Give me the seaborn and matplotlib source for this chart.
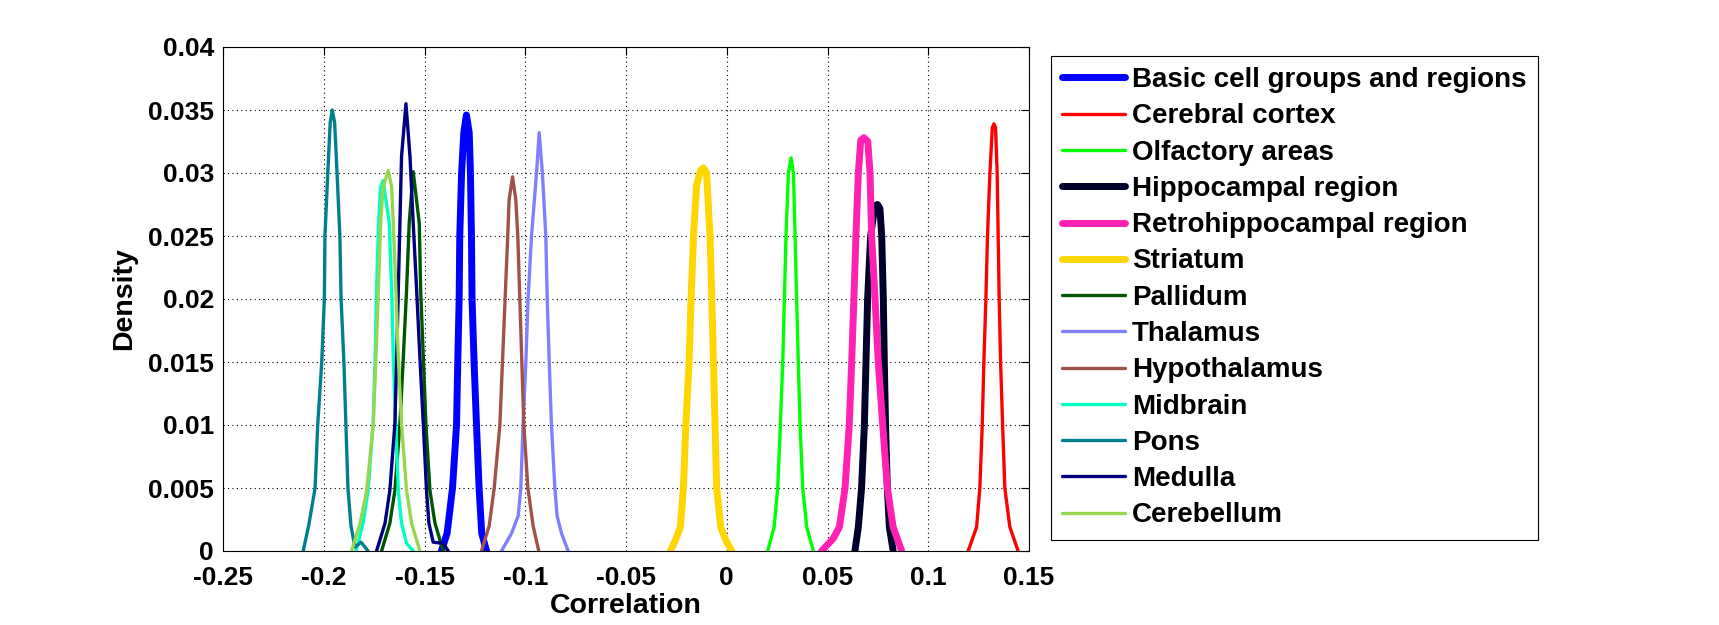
import numpy as np
import pandas as pd
import seaborn as sns
import matplotlib.pyplot as plt

# legend order = drawing order
regions = ["Basic cell groups and regions", "Cerebral cortex", "Olfactory areas",
           "Hippocampal region", "Retrohippocampal region", "Striatum", "Pallidum",
           "Thalamus", "Hypothalamus", "Midbrain", "Pons", "Medulla", "Cerebellum"]

# density curves (correlation, density)
basic_x = [-0.1416, -0.1388, -0.1361, -0.1341, -0.1335, -0.1328, -0.1325, -0.1316, -0.1305, -0.1292,
           -0.1278, -0.1272, -0.1267, -0.1264, -0.1254, -0.1242, -0.1229, -0.1216, -0.1192]
basic_y = [0.0, 0.0014, 0.005, 0.010, 0.015, 0.020, 0.025, 0.030, 0.0332, 0.0346,
           0.0332, 0.030, 0.025, 0.020, 0.015, 0.010, 0.005, 0.0014, 0.0]

cortex_x = [0.1198, 0.1240, 0.1256, 0.1268, 0.1276, 0.1286, 0.1294, 0.1306, 0.1318, 0.1326,
            0.1334, 0.1342, 0.1347, 0.1352, 0.1359, 0.1369, 0.1380, 0.1405, 0.1446]
cortex_y = [0.0, 0.0019, 0.005, 0.010, 0.015, 0.020, 0.025, 0.030, 0.0336, 0.0339,
            0.0336, 0.030, 0.025, 0.020, 0.015, 0.010, 0.005, 0.0019, 0.0]

olfactory_x = [0.0203, 0.0235, 0.0253, 0.0266, 0.0278, 0.0286, 0.0294, 0.0306, 0.0319,
               0.0331, 0.0339, 0.0347, 0.0355, 0.0364, 0.0377, 0.0397, 0.0430]
olfactory_y = [0.0, 0.0019, 0.005, 0.010, 0.015, 0.020, 0.025, 0.030, 0.0312,
               0.030, 0.025, 0.020, 0.015, 0.010, 0.005, 0.0019, 0.0]

hippo_x = [0.0636, 0.0653, 0.0669, 0.0683, 0.0691, 0.0699, 0.0714, 0.0735, 0.0748,
           0.0760, 0.0769, 0.0777, 0.0782, 0.0788, 0.0797, 0.0807, 0.0826]
hippo_y = [0.0, 0.0019, 0.005, 0.010, 0.015, 0.020, 0.025, 0.0274, 0.0275,
           0.0272, 0.025, 0.020, 0.015, 0.010, 0.005, 0.0019, 0.0]

retro_x = [0.0471, 0.0529, 0.0559, 0.0587, 0.0608, 0.0620, 0.0631, 0.0641, 0.0653, 0.0665,
           0.0681, 0.0700, 0.0711, 0.0719, 0.0736, 0.0752, 0.0774, 0.0797, 0.0826, 0.0868]
retro_y = [0.0, 0.001, 0.0019, 0.005, 0.010, 0.015, 0.020, 0.025, 0.030, 0.0326,
           0.0328, 0.0325, 0.030, 0.025, 0.020, 0.015, 0.010, 0.005, 0.0019, 0.0]

striatum_x = [-0.0280, -0.0256, -0.0230, -0.0215, -0.0203, -0.0187, -0.0177, -0.0165, -0.0150, -0.0130,
              -0.0116, -0.0100, -0.0083, -0.0074, -0.0066, -0.0058, -0.0050, -0.0030, -0.0003, 0.0025]
striatum_y = [0.0, 0.0008, 0.0019, 0.005, 0.010, 0.015, 0.020, 0.025, 0.0290, 0.0302,
              0.0304, 0.0300, 0.025, 0.020, 0.015, 0.010, 0.005, 0.0019, 0.0008, 0.0]

pallidum_x = [-0.1713, -0.1672, -0.1647, -0.1622, -0.1605, -0.1589, -0.1576, -0.1556,
              -0.1526, -0.1519, -0.1506, -0.1493, -0.1473, -0.1448, -0.1407]
pallidum_y = [0.0, 0.0022, 0.0048, 0.0101, 0.0154, 0.0207, 0.026, 0.0301,
              0.026, 0.0207, 0.0154, 0.0101, 0.0048, 0.0022, 0.0]

thalamus_x = [-0.1118, -0.1068, -0.1035, -0.1022, -0.1011, -0.0997, -0.0986, -0.0969, -0.0944, -0.0931,
              -0.0915, -0.0898, -0.0891, -0.0881, -0.0870, -0.0853, -0.0842, -0.0820, -0.0787]
thalamus_y = [0.0, 0.0014, 0.0028, 0.005, 0.010, 0.015, 0.020, 0.025, 0.030, 0.0332,
              0.030, 0.025, 0.020, 0.015, 0.010, 0.005, 0.0028, 0.0014, 0.0]

hypo_x = [-0.1217, -0.1179, -0.1154, -0.1126, -0.1113, -0.1100, -0.1087, -0.1080, -0.1063,
          -0.1047, -0.1037, -0.1027, -0.1017, -0.1007, -0.0987, -0.0961, -0.0933]
hypo_y = [0.0, 0.002, 0.005, 0.010, 0.015, 0.020, 0.025, 0.0279, 0.0297,
          0.0279, 0.025, 0.020, 0.015, 0.010, 0.005, 0.002, 0.0]

midbrain_x = [-0.1840, -0.1805, -0.1780, -0.1755, -0.1745, -0.1738, -0.1728, -0.1718, -0.1705,
              -0.1675, -0.1663, -0.1655, -0.1643, -0.1630, -0.1614, -0.1589, -0.1556]
midbrain_y = [0.0, 0.0022, 0.0048, 0.0101, 0.0154, 0.0207, 0.026, 0.0289, 0.0294,
              0.026, 0.0207, 0.0154, 0.0101, 0.0048, 0.0022, 0.0006, 0.0]

pons_x = [-0.2102, -0.2075, -0.2043, -0.2030, -0.2010, -0.1997, -0.1994, -0.1980, -0.1968, -0.1958, -0.1946,
          -0.1934, -0.1920, -0.1914, -0.1900, -0.1890, -0.1880, -0.1865, -0.1845, -0.1815, -0.1780]
pons_y = [0.0, 0.002, 0.005, 0.010, 0.015, 0.020, 0.025, 0.030, 0.034, 0.035, 0.034,
          0.030, 0.025, 0.020, 0.015, 0.010, 0.005, 0.002, 0.0003, 0.0007, 0.0]

medulla_x = [-0.1738, -0.1696, -0.1672, -0.1647, -0.1638, -0.1630, -0.1622, -0.1614, -0.1592,
             -0.1572, -0.1556, -0.1539, -0.1523, -0.1506, -0.1490, -0.1478, -0.1457, -0.1407, -0.1382]
medulla_y = [0.0, 0.0022, 0.0048, 0.0101, 0.0154, 0.0207, 0.026, 0.0313, 0.0355,
             0.0313, 0.026, 0.0207, 0.0154, 0.0101, 0.0048, 0.0022, 0.0007, 0.0006, 0.0]

cerebellum_x = [-0.1862, -0.1820, -0.1787, -0.1754, -0.1741, -0.1729, -0.1718, -0.1705, -0.1680,
                -0.1663, -0.1655, -0.1642, -0.1630, -0.1614, -0.1589, -0.1564, -0.1523]
cerebellum_y = [0.0, 0.0022, 0.0048, 0.0101, 0.0154, 0.0207, 0.026, 0.0289, 0.0302,
                0.0289, 0.026, 0.0207, 0.0154, 0.0101, 0.0048, 0.0022, 0.0]

curves_x = [basic_x, cortex_x, olfactory_x, hippo_x, retro_x, striatum_x, pallidum_x,
            thalamus_x, hypo_x, midbrain_x, pons_x, medulla_x, cerebellum_x]
curves_y = [basic_y, cortex_y, olfactory_y, hippo_y, retro_y, striatum_y, pallidum_y,
            thalamus_y, hypo_y, midbrain_y, pons_y, medulla_y, cerebellum_y]

colors = ["#0000ff", "#ff0000", "#00ff00", "#00002a", "#ff20b4", "#ffd700", "#005500",
          "#8080ff", "#a0524a", "#00ffc0", "#00808f", "#000080", "#99d650"]
widths = [5, 2.4, 2.4, 5, 5, 5, 2.4, 2.4, 2.4, 2.4, 2.4, 2.4, 2.4]

xticks = [-0.25, -0.2, -0.15, -0.1, -0.05, 0, 0.05, 0.1, 0.15]
yticks = [0, 0.005, 0.01, 0.015, 0.02, 0.025, 0.03, 0.035, 0.04]

sns.set_style("white")
plt.rcParams['font.family'] = ['Liberation Sans', 'DejaVu Sans']
plt.rcParams['font.weight'] = 'bold'
plt.rcParams['axes.unicode_minus'] = False
plt.rcParams['text.color'] = 'black'
plt.rcParams['axes.labelcolor'] = 'black'

fig = plt.figure(figsize=(17.19, 6.25), dpi=100)
ax = fig.add_axes([223 / 1719, 74 / 625, 806 / 1719, 504 / 625])

for name, xs, ys, col, lw in zip(regions, curves_x, curves_y, colors, widths):
    df = pd.DataFrame({"Correlation": xs, "Density": ys})
    sns.lineplot(data=df, x="Correlation", y="Density", color=col, linewidth=lw,
                 label=name, ax=ax, estimator=None, sort=False)

ax.set_xlim(-0.25, 0.15)
ax.set_ylim(0, 0.04)
ax.set_xticks(xticks)
ax.set_xticklabels(["%g" % t for t in xticks])
ax.set_yticks(yticks)
ax.set_yticklabels(["%g" % t for t in yticks])
ax.grid(True, color="black", linestyle=(0, (1, 3)), linewidth=0.8)
ax.tick_params(direction="in", length=6, width=0.8, top=True, right=True,
               labelsize=19, colors="black")
ax.tick_params(axis="x", pad=11)
ax.tick_params(axis="y", pad=6.5)
for sp in ax.spines.values():
    sp.set_visible(True)
    sp.set_color("black")
    sp.set_linewidth(0.8)

ax.set_xlabel("Correlation", fontsize=20.5, fontweight="bold", labelpad=2)
ax.set_ylabel("Density", fontsize=20.5, fontweight="bold", labelpad=8)

leg = ax.legend(loc="upper left", bbox_to_anchor=(1051 / 1719, 1 - 56 / 625),
                bbox_transform=fig.transFigure, prop={"size": 20, "weight": "bold"},
                handlelength=2.27, handletextpad=0.25, labelspacing=0.37, borderpad=0.4,
                borderaxespad=0, frameon=True, fancybox=False, edgecolor="black", framealpha=1)
leg.get_frame().set_linewidth(0.8)
for t in leg.get_texts():
    t.set_color("black")

fig.savefig("out.png", dpi=100)
